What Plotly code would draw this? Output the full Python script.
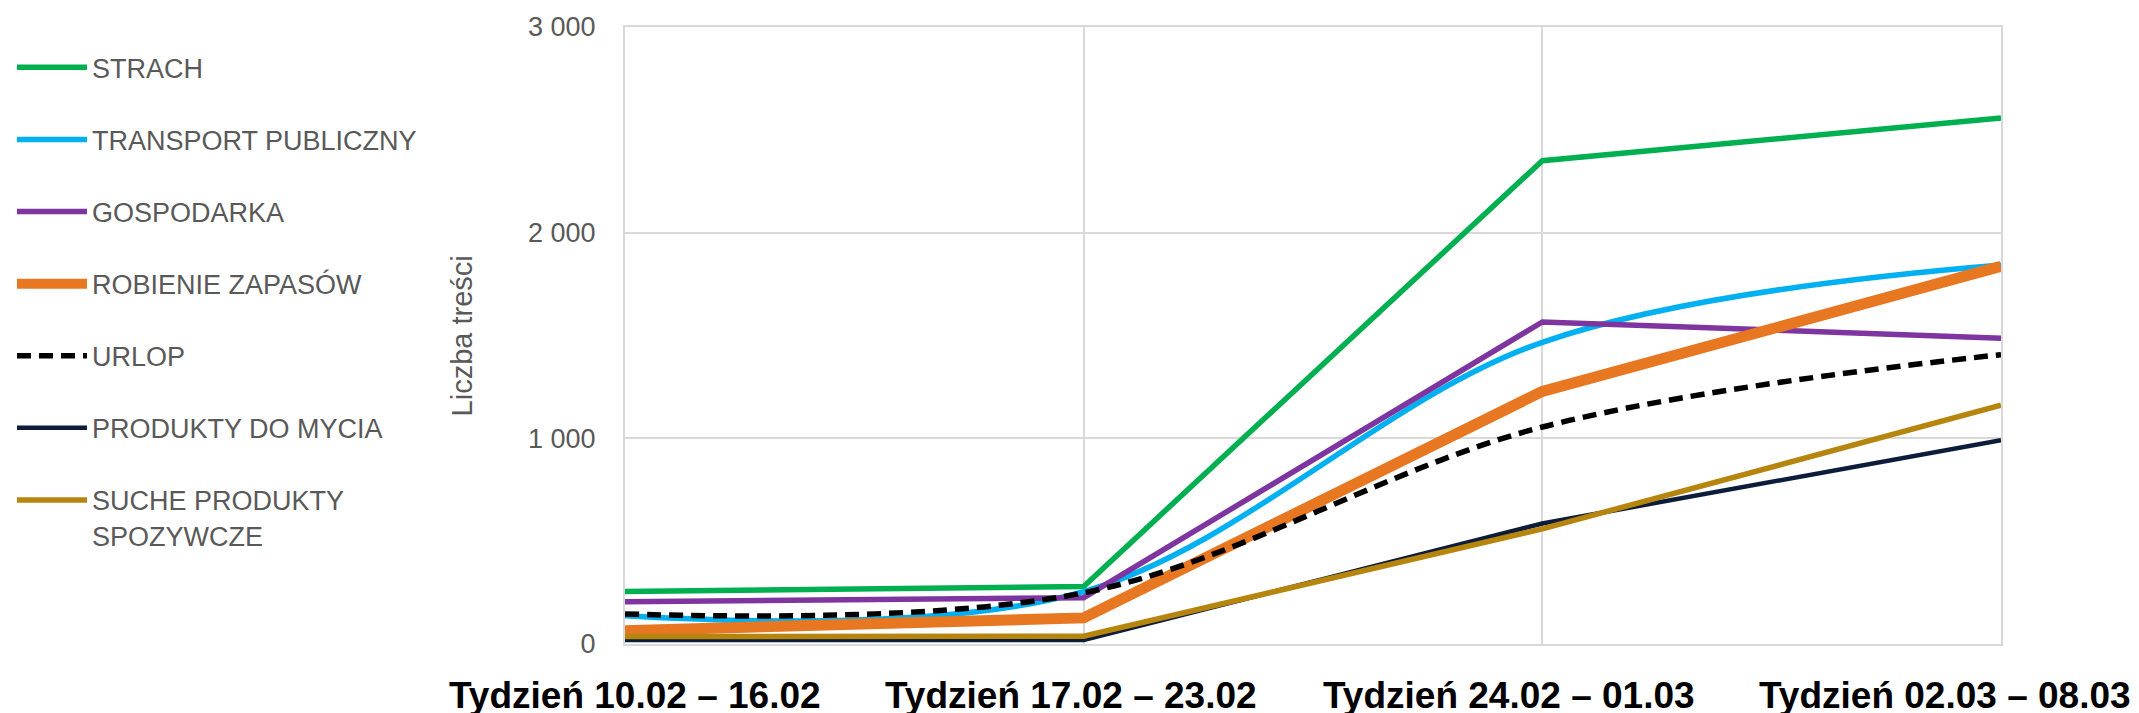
import plotly.graph_objects as go

categories = ["Tydzień 10.02 – 16.02", "Tydzień 17.02 – 23.02",
              "Tydzień 24.02 – 01.03", "Tydzień 02.03 – 08.03"]

strach = [255, 280, 2350, 2558]
transport = [137, 255, 1467, 1843]
gospodarka = [206, 225, 1566, 1487]
zapasy = [65, 127, 1228, 1836]
urlop = [146, 249, 1055, 1407]
mycie = [20, 20, 586, 991]
suche = [36, 38, 560, 1161]

names = ["STRACH", "TRANSPORT PUBLICZNY", "GOSPODARKA", "ROBIENIE ZAPASÓW",
         "URLOP", "PRODUKTY DO MYCIA", "SUCHE PRODUKTY<br>SPOZYWCZE"]
series = [strach, transport, gospodarka, zapasy, urlop, mycie, suche]
colors = ["#00B050", "#00B0F0", "#7E35A0", "#E87722", "#000000", "#0C1C3A", "#B5850E"]
widths = [5.5, 5.5, 5.5, 11, 5.5, 4.5, 5.5]
dashes = ["solid", "solid", "solid", "solid", "14px,8px", "solid", "solid"]
shapes = ["linear", "spline", "linear", "linear", "spline", "linear", "linear"]

y_tickvals = [0, 1000, 2000, 3000]
y_ticktext = ["0", "1 000", "2 000", "3 000"]
y_title = "Liczba treści"
label_shift = [10, -13, -33, -56]

fig = go.Figure()
for i, (n, s) in enumerate(zip(names, series)):
    fig.add_trace(go.Scatter(
        x=categories, y=s, name=n, mode="lines", legendgroup=f"g{i}",
        line=dict(color=colors[i], width=widths[i], dash=dashes[i], shape=shapes[i]),
    ))

fig.update_layout(
    width=2131, height=705,
    margin=dict(l=617, r=138, t=19, b=69, autoexpand=False),
    paper_bgcolor="white", plot_bgcolor="white",
    font=dict(family="Liberation Sans, Arial, sans-serif", color="#595959"),
    showlegend=True,
    legend=dict(x=-0.4455, xanchor="left", y=0.9736, yanchor="top",
                traceorder="grouped", tracegroupgap=34, itemwidth=70, valign="top",
                font=dict(size=27, color="#595959"), bgcolor="rgba(0,0,0,0)"),
)
fig.update_xaxes(type="category", range=[0, 3], showgrid=True, gridcolor="#D9D9D9",
                 gridwidth=2, showticklabels=False, zeroline=False, automargin=False,
                 showline=True, mirror=True, linecolor="#D9D9D9", linewidth=2)
fig.update_yaxes(range=[0, 3000], tickvals=y_tickvals, ticktext=y_ticktext,
                 showgrid=True, gridcolor="#D9D9D9", gridwidth=2, zeroline=False,
                 automargin=False,
                 showline=True, mirror=True, linecolor="#D9D9D9", linewidth=2,
                 tickfont=dict(size=27, color="#595959"),
                 ticks="", ticklabelstandoff=22)

for i, c in enumerate(categories):
    fig.add_annotation(x=c, xref="x", y=0, yref="paper", yanchor="middle", yshift=-51,
                       xshift=label_shift[i], text=f"<b>{c}</b>", showarrow=False,
                       font=dict(size=37, color="#000000", family="Liberation Sans, Arial"))

fig.add_annotation(x=-0.1185, xref="paper", xanchor="center", y=0.5, yref="paper",
                   text=y_title, textangle=-90, showarrow=False,
                   font=dict(size=29, color="#595959"))

fig.write_html("out.html")
